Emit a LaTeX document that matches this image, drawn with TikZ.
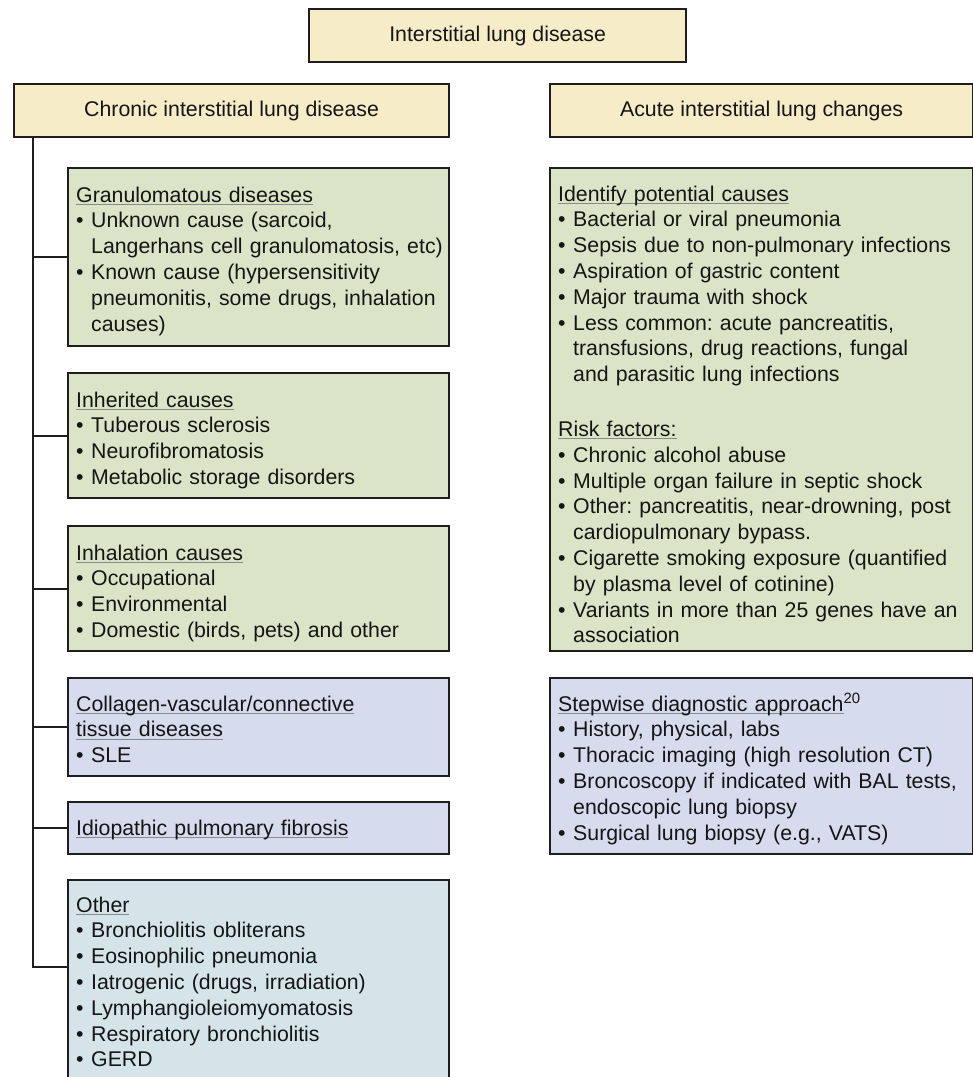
\documentclass[tikz,border=0pt]{standalone}
\usepackage{fontspec}
\setmainfont{Liberation Sans}
\definecolor{beige}{HTML}{F7ECC8}
\definecolor{sage}{HTML}{DCE4C8}
\definecolor{lav}{HTML}{D6DBED}
\definecolor{aqua}{HTML}{D4E4E9}
\definecolor{edge}{HTML}{1E1E1E}
\definecolor{ink}{HTML}{151515}
\definecolor{ulgray}{HTML}{8A8A8A}
\frenchspacing
\newcommand\bl{\makebox[15pt][l]{\textbullet}}
\newcommand\ind{\hspace*{15pt}}
\newcommand\hd[1]{\leavevmode\setbox0=\hbox{#1}\rlap{\color{ulgray}\rule[-3pt]{\wd0}{1.3pt}}\box0}
\tikzset{
  box/.style={draw=edge, line width=2.2pt, inner sep=0pt, anchor=north west,
    font=\fontsize{21.3}{25.8}\selectfont\frenchspacing, text=ink},
  txt/.style={anchor=base west, inner sep=0pt, text width=460pt, align=left,
    font=\fontsize{21.3}{25.8}\selectfont\frenchspacing, text=ink},
  conn/.style={draw=edge, line width=2.2pt},
}
\begin{document}
\begin{tikzpicture}[x=1pt,y=-1pt]
\clip (0,0) rectangle (973,1077);
\fill[white] (0,0) rectangle (973,1077);
% header boxes
\node[box, fill=beige, minimum width=377pt, minimum height=53pt] (top) at (308,8) {Interstitial lung disease};
\node[box, fill=beige, minimum width=435pt, minimum height=53pt] (chronic) at (13,83) {Chronic interstitial lung disease};
\node[box, fill=beige, minimum width=423pt, minimum height=53pt] (acute) at (549,83) {Acute interstitial lung changes};
% left column boxes
\node[box, fill=sage, minimum width=381pt, minimum height=178pt] (gran) at (67,167) {};
\node[box, fill=sage, minimum width=381pt, minimum height=125pt] (inher) at (67,372) {};
\node[box, fill=sage, minimum width=381pt, minimum height=125pt] (inhal) at (67,525) {};
\node[box, fill=lav, minimum width=381pt, minimum height=98pt] (coll) at (67,677) {};
\node[box, fill=lav, minimum width=381pt, minimum height=52pt] (idio) at (67,801) {};
\node[box, fill=aqua, minimum width=381pt, minimum height=221pt] (other) at (67,879) {};
% right column boxes
\node[box, fill=sage, minimum width=423pt, minimum height=483pt] (ident) at (549,167) {};
\node[box, fill=lav, minimum width=423pt, minimum height=176pt] (step) at (549,677) {};
% texts
\node[txt] (gran-t) at (76,202) {\hd{Granulomatous diseases}\\
\bl Unknown cause (sarcoid,\\
\ind Langerhans cell granulomatosis, etc)\\
\bl Known cause (hypersensitivity\\
\ind pneumonitis, some drugs, inhalation\\
\ind causes)};
\node[txt] (inher-t) at (76,407) {\hd{Inherited causes}\\
\bl Tuberous sclerosis\\
\bl Neurofibromatosis\\
\bl Metabolic storage disorders};
\node[txt] (inhal-t) at (76,560) {\hd{Inhalation causes}\\
\bl Occupational\\
\bl Environmental\\
\bl Domestic (birds, pets) and other};
\node[txt] (coll-t) at (76,711) {\hd{Collagen-vascular/connective}\\
\hd{tissue diseases}\\
\bl SLE};
\node[txt] (idio-t) at (76,835) {\hd{Idiopathic pulmonary fibrosis}};
\node[txt] (other-t) at (76,912) {\hd{Other}\\
\bl Bronchiolitis obliterans\\
\bl Eosinophilic pneumonia\\
\bl Iatrogenic (drugs, irradiation)\\
\bl Lymphangioleiomyomatosis\\
\bl Respiratory bronchiolitis\\
\bl GERD};
\node[txt] (ident-t) at (558,201) {\hd{Identify potential causes}\\
\bl Bacterial or viral pneumonia\\
\bl Sepsis due to non-pulmonary infections\\
\bl Aspiration of gastric content\\
\bl Major trauma with shock\\
\bl Less common: acute pancreatitis,\\
\ind transfusions, drug reactions, fungal\\
\ind and parasitic lung infections\\[29pt]
\hd{Risk factors:}\\
\bl Chronic alcohol abuse\\
\bl Multiple organ failure in septic shock\\
\bl Other: pancreatitis, near-drowning, post\\
\ind cardiopulmonary bypass.\\
\bl Cigarette smoking exposure (quantified\\
\ind by plasma level of cotinine)\\
\bl Variants in more than 25 genes have an\\
\ind association};
\node[txt] (step-t) at (558,711) {\hd{Stepwise diagnostic approach}\textsuperscript{20}\\
\bl History, physical, labs\\
\bl Thoracic imaging (high resolution CT)\\
\bl Broncoscopy if indicated with BAL tests,\\
\ind endoscopic lung biopsy\\
\bl Surgical lung biopsy (e.g., VATS)};
% connectors
\coordinate (trunk) at (33,136);
\coordinate (obr) at (67,967);
\draw[conn] (trunk) |- (obr);
\foreach \n in {gran,inher,inhal,coll,idio}
  \draw[conn] (\n.west) -- (\n.west -| trunk);
\end{tikzpicture}
\end{document}
